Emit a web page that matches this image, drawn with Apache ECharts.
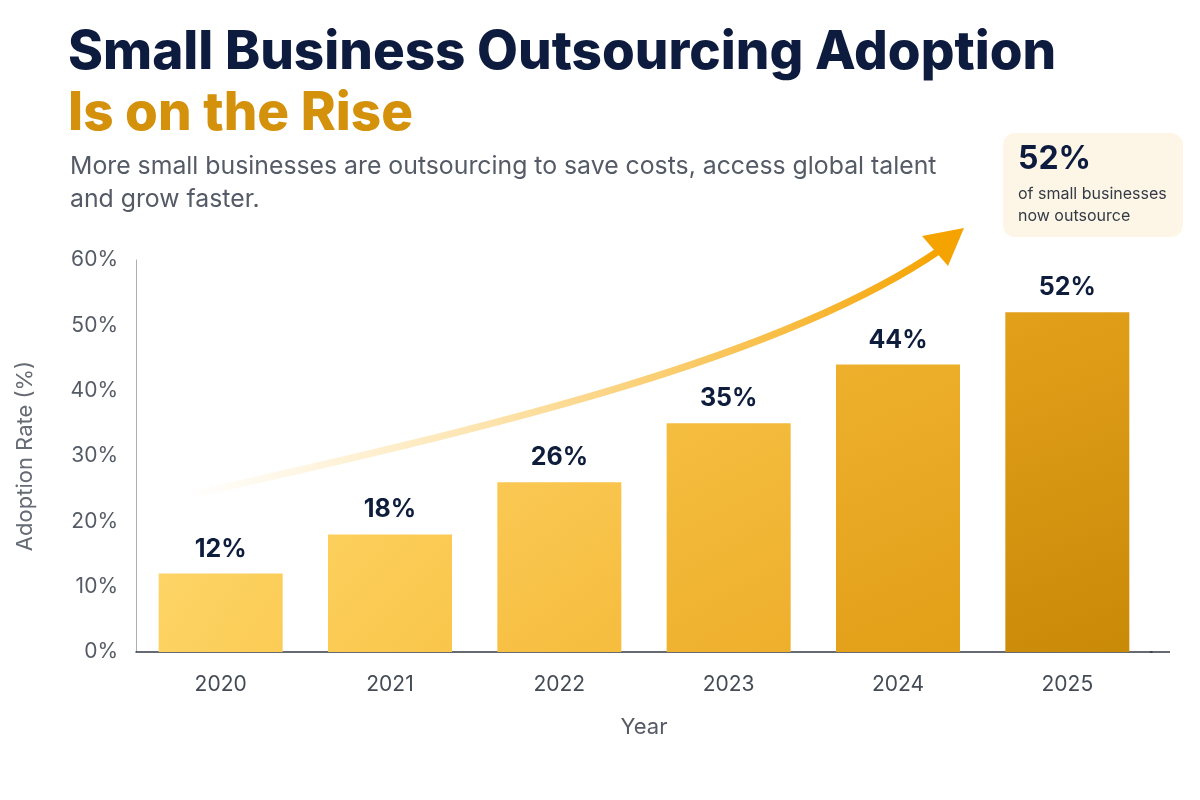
<!DOCTYPE html><html><head><meta charset="utf-8">
<script src="https://cdn.jsdelivr.net/npm/echarts@6/dist/echarts.min.js"></script>
<style>html,body{margin:0;background:#fff}#c{width:1200px;height:800px}</style></head><body><div id="c"></div>
<script>
const categories=['2020','2021','2022','2023','2024','2025'];
const values=[12,18,26,35,44,52];
const barColors=[['#fdd466','#fbcc55'],['#fccf5c','#f9c64a'],['#fac853','#f6bd3e'],['#f5bd3f','#eeaf2c'],['#eeb02c','#e29f18'],['#e3a01a','#c98a08']];
const yTicks=[0,10,20,30,40,50,60];
const chart=echarts.init(document.getElementById('c'));
const F='Inter, "Noto Sans", sans-serif';
chart.setOption({
 animation:false,
 grid:{left:136,right:48,top:260,bottom:148},
 xAxis:{type:'category',data:categories,name:'Year',nameLocation:'middle',nameGap:64,
  nameTextStyle:{fontSize:22,color:'#555b66',fontFamily:F},
  axisLine:{lineStyle:{color:'#333a45',width:1.5}},axisTick:{show:false},
  axisLabel:{fontSize:21,color:'#444b55',margin:22,fontFamily:F}},
 yAxis:{type:'value',min:0,max:60,interval:10,name:'Adoption Rate (%)',nameLocation:'middle',nameGap:100,
  nameTextStyle:{fontSize:22,color:'#666b74',fontFamily:F},
  axisLine:{show:true,lineStyle:{color:'#aab0b8'}},splitLine:{show:false},
  axisLabel:{formatter:v=>yTicks.includes(v)?v+'%':'',fontSize:21,color:'#555b66',margin:18,fontFamily:F}},
 series:[{type:'bar',barWidth:124,
  data:values.map((v,i)=>({value:v,itemStyle:{color:new echarts.graphic.LinearGradient(0,0,1,1,[{offset:0,color:barColors[i][0]},{offset:1,color:barColors[i][1]}])}})),
  label:{show:true,position:'top',distance:12,formatter:'{c}%',fontSize:25,fontWeight:'bold',color:'#0f1d3d',fontFamily:F}}],
 graphic:[
  {type:'line',shape:{x1:1150,y1:652,x2:1170,y2:652},style:{stroke:'#333a45',lineWidth:1.5}},
  {type:'text',left:68,top:27,style:{text:'Small Business Outsourcing Adoption',font:'800 53px '+F,fill:'#0d1b3e'}},
  {type:'text',left:68,top:88,style:{text:'Is on the Rise',font:'800 53px '+F,fill:'#d4920c'}},
  {type:'text',left:70,top:150,style:{text:'More small businesses are outsourcing to save costs, access global talent\nand grow faster.',font:'24.8px '+F,fill:'#555b66',lineHeight:33}},
  {type:'rect',shape:{x:1003,y:133,width:180,height:104,r:12},style:{fill:'#fdf6e6'}},
  {type:'text',left:1018,top:143,style:{text:'52%',font:'bold 32px '+F,fill:'#0d1b3e'}},
  {type:'text',left:1018,top:183,style:{text:'of small businesses\nnow outsource',font:'16px '+F,fill:'#333a45',lineHeight:22}},
  {type:'bezierCurve',shape:{x1:190,y1:495,cpx1:480,cpy1:430,cpx2:780,cpy2:360,x2:940,y2:250},
   style:{fill:null,lineWidth:7,lineCap:'round',stroke:new echarts.graphic.LinearGradient(0,0,1,0,[{offset:0,color:'rgba(252,200,80,0)'},{offset:1,color:'#f5a300'}])}},
  {type:'polygon',shape:{points:[[964,228],[922,236],[948,266]]},style:{fill:'#f5a300'}}
 ]
});
</script></body></html>
